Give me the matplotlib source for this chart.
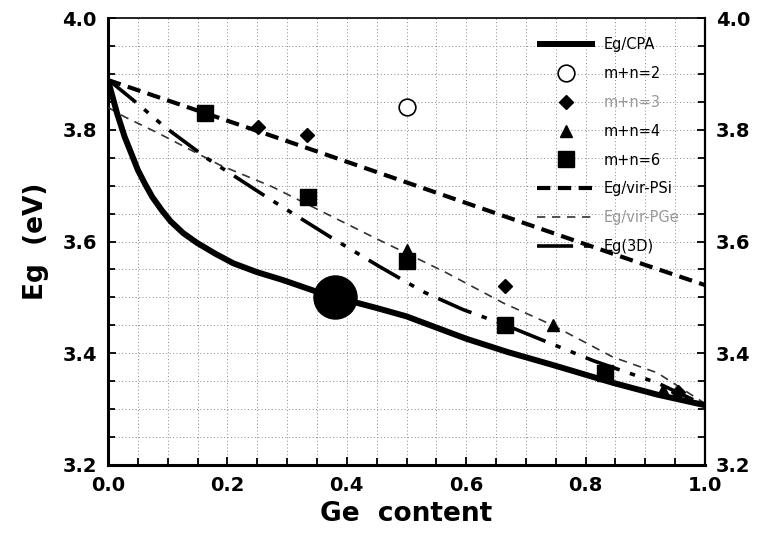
import numpy as np
import matplotlib
matplotlib.use("Agg")
import matplotlib.pyplot as plt
from matplotlib.ticker import MultipleLocator, FormatStrFormatter

# curves
cpa_x = [0.0, 0.015, 0.028, 0.04, 0.05, 0.062, 0.074, 0.09, 0.105, 0.126, 0.15, 0.18, 0.21,
         0.25, 0.293, 0.35, 0.4, 0.45, 0.5, 0.55, 0.6, 0.67, 0.745, 0.846, 0.92, 1.0]
cpa_y = [3.889, 3.83, 3.787, 3.755, 3.728, 3.703, 3.68, 3.656, 3.636, 3.615, 3.597, 3.578, 3.561,
         3.545, 3.531, 3.51, 3.495, 3.481, 3.466, 3.446, 3.426, 3.402, 3.379, 3.347, 3.326, 3.307]

psi_x = [0.0, 0.28, 0.44, 0.9, 1.0]
psi_y = [3.889, 3.787, 3.728, 3.558, 3.522]

pge_x = [0.0, 0.028, 0.084, 0.187, 0.275, 0.444, 0.567, 0.662, 0.745, 0.846, 0.92, 1.0]
pge_y = [3.84, 3.823, 3.794, 3.737, 3.698, 3.608, 3.544, 3.49, 3.45, 3.393, 3.365, 3.31]

d3_x = [0.0, 0.048, 0.095, 0.167, 0.268, 0.377, 0.455, 0.528, 0.595, 0.662, 0.752, 0.812, 0.92, 1.0]
d3_y = [3.89, 3.848, 3.805, 3.748, 3.678, 3.605, 3.555, 3.51, 3.478, 3.452, 3.413, 3.387, 3.347, 3.307]

# cluster points
mn2_x = [0.5]
mn2_y = [3.84]
mn3_x = [0.251, 0.333, 0.665, 0.955]
mn3_y = [3.805, 3.79, 3.52, 3.33]
mn4_x = [0.5, 0.745, 0.93]
mn4_y = [3.585, 3.45, 3.335]
mn6_x = [0.162, 0.335, 0.5, 0.665, 0.833]
mn6_y = [3.83, 3.68, 3.565, 3.45, 3.365]

big_x = [0.38]
big_y = [3.50]

fig = plt.figure(figsize=(7.59, 5.42), dpi=100)
ax = fig.add_axes([108 / 759, 1 - 465 / 542, 597 / 759, 447 / 542])

ax.plot(cpa_x, cpa_y, color="black", lw=4.3, solid_capstyle="butt", solid_joinstyle="round",
        label="Eg/CPA", zorder=5)
ax.plot(mn2_x, mn2_y, "o", ms=12, mfc="white", mec="black", mew=1.2, ls="none", label="m+n=2", zorder=6)
ax.plot(mn3_x, mn3_y, "D", ms=7, color="black", ls="none", label="m+n=3", zorder=6)
ax.plot(mn4_x, mn4_y, "^", ms=9, color="black", ls="none", label="m+n=4", zorder=6)
ax.plot(mn6_x, mn6_y, "s", ms=11, color="black", ls="none", label="m+n=6", zorder=6)
ax.plot(psi_x, psi_y, color="black", lw=3, dashes=(3.2, 1.8), label="Eg/vir-PSi", zorder=4)
ax.plot(pge_x, pge_y, color="#333333", lw=1.2, dashes=(5, 4), label="Eg/vir-PGe", zorder=4)
ax.plot(d3_x, d3_y, color="black", lw=2.6, dashes=(10, 3, 1.5, 3, 1.5, 3), label="Eg(3D)", zorder=4)
ax.plot(big_x, big_y, "o", ms=31, color="black", zorder=7)

ax.set_xlim(0, 1.0)
ax.set_ylim(3.2, 4.0)
ax.xaxis.set_major_locator(MultipleLocator(0.2))
ax.xaxis.set_minor_locator(MultipleLocator(0.05))
ax.yaxis.set_major_locator(MultipleLocator(0.2))
ax.yaxis.set_minor_locator(MultipleLocator(0.05))
ax.xaxis.set_major_formatter(FormatStrFormatter("%.1f"))
ax.yaxis.set_major_formatter(FormatStrFormatter("%.1f"))
ax.grid(True, which="both", ls=(0, (1, 2.5)), lw=0.7, color="#888888")
ax.tick_params(which="both", direction="in", left=True, right=True, bottom=True, top=False,
               labelright=True, width=1.3)
ax.tick_params(which="major", length=6, labelsize=14, pad=8)
ax.tick_params(which="minor", length=5)
for lab in ax.get_xticklabels() + ax.get_yticklabels():
    lab.set_fontweight("bold")
for side, w in [("left", 2.2), ("bottom", 2.2), ("right", 1.6), ("top", 1.2)]:
    ax.spines[side].set_linewidth(w)

ax.set_xlabel("Ge  content", fontsize=19, fontweight="bold", labelpad=4)
ax.set_ylabel("Eg  (eV)", fontsize=19, fontweight="bold", labelpad=10)

leg = ax.legend(loc="upper right", bbox_to_anchor=(0.975, 0.98), frameon=False, fontsize=10.5,
                handlelength=4, numpoints=1, labelspacing=0.95, handletextpad=0.6,
                borderaxespad=0.3)
for t in leg.get_texts():
    if t.get_text() in ("m+n=3", "Eg/vir-PGe"):
        t.set_color("#999999")

fig.savefig("out.png", dpi=100)
